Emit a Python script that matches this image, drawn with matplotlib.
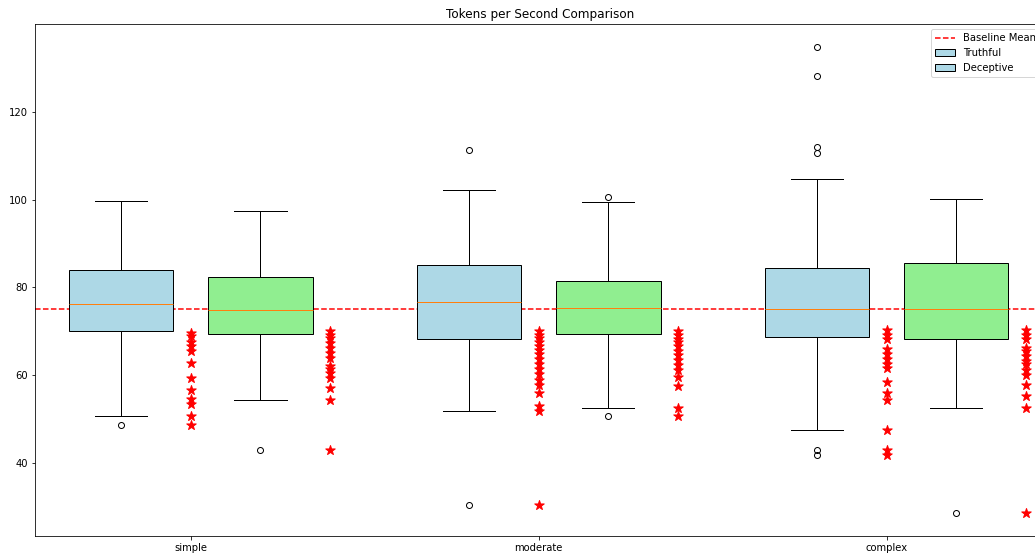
import matplotlib.pyplot as plt
from matplotlib.lines import Line2D
from matplotlib.patches import Patch

categories = ["simple", "moderate", "complex"]

# box statistics per complexity level (tokens per second)
truthful_med = [76.3, 76.7, 75.2]
truthful_q1 = [70.0, 68.2, 68.8]
truthful_q3 = [84.0, 85.2, 84.4]
truthful_lo = [50.7, 52.0, 47.5]
truthful_hi = [99.6, 102.1, 104.6]
truthful_fliers = [[48.8], [111.2, 30.6], [134.7, 128.1, 112.0, 110.6, 43.0, 41.9]]

deceptive_med = [74.8, 75.3, 75.2]
deceptive_q1 = [69.5, 69.5, 68.3]
deceptive_q3 = [82.3, 81.5, 85.5]
deceptive_lo = [54.5, 52.7, 52.7]
deceptive_hi = [97.3, 99.5, 100.2]
deceptive_fliers = [[43.0], [100.6, 50.7], [28.7]]

# runs that fell below the slow threshold
truthful_slow = [
    [69.7, 68.9, 67.5, 66.6, 65.6, 62.9, 59.5, 56.8, 54.7, 53.5, 50.7, 48.8],
    [70.0, 69.3, 68.5, 67.6, 66.7, 65.8, 64.8, 63.7, 62.6, 61.5, 60.3, 59.0,
     57.8, 55.9, 53.0, 52.0, 30.6],
    [70.4, 69.3, 68.3, 66.0, 64.9, 63.8, 62.6, 61.6, 58.5, 55.9, 54.4, 47.5,
     43.0, 41.9],
]
deceptive_slow = [
    [70.1, 69.3, 68.6, 67.4, 66.3, 65.2, 64.0, 62.1, 61.4, 60.6, 59.5, 57.2,
     54.5, 43.0],
    [70.0, 69.2, 68.4, 67.5, 66.6, 65.6, 64.6, 63.5, 62.4, 61.3, 59.7, 57.5,
     52.7, 50.7],
    [70.4, 69.3, 68.2, 66.3, 65.5, 64.4, 63.2, 62.5, 61.3, 60.2, 57.9, 55.3,
     52.7, 28.7],
]

baseline_mean = 75.2


def make_stats(med, q1, q3, lo, hi, fliers):
    return [dict(med=m, q1=a, q3=b, whislo=l, whishi=h, fliers=f)
            for m, a, b, l, h, f in zip(med, q1, q3, lo, hi, fliers)]


fig = plt.figure(figsize=(1035 / 72, 556 / 72), dpi=72)
ax = fig.add_axes([35 / 1035, 20 / 556, 1010 / 1035, 512 / 556])

x = list(range(len(categories)))
pos_t = [i - 0.2 for i in x]
pos_d = [i + 0.2 for i in x]

ax.axhline(baseline_mean, color="red", linestyle="--")

bp1 = ax.bxp(make_stats(truthful_med, truthful_q1, truthful_q3, truthful_lo,
                        truthful_hi, truthful_fliers),
             positions=pos_t, widths=0.3, patch_artist=True, manage_ticks=False)
bp2 = ax.bxp(make_stats(deceptive_med, deceptive_q1, deceptive_q3, deceptive_lo,
                        deceptive_hi, deceptive_fliers),
             positions=pos_d, widths=0.3, patch_artist=True, manage_ticks=False)
for b in bp1["boxes"]:
    b.set_facecolor("lightblue")
for b in bp2["boxes"]:
    b.set_facecolor("lightgreen")

for p, vals in zip(pos_t, truthful_slow):
    ax.scatter([p + 0.2] * len(vals), vals, marker="*", color="red", s=100)
for p, vals in zip(pos_d, deceptive_slow):
    ax.scatter([p + 0.2] * len(vals), vals, marker="*", color="red", s=100)

ax.set_xticks(x)
ax.set_xticklabels(categories)
ax.set_xlim(-0.448, 2.455)
ax.set_ylim(23.5, 139.9)
ax.set_title("Tokens per Second Comparison")

handles = [
    Line2D([], [], color="red", linestyle="--"),
    Patch(facecolor="lightblue", edgecolor="black"),
    Patch(facecolor="lightblue", edgecolor="black"),
]
ax.legend(handles, ["Baseline Mean", "Truthful", "Deceptive"], loc="upper right")

fig.savefig("out.png", dpi=72)
